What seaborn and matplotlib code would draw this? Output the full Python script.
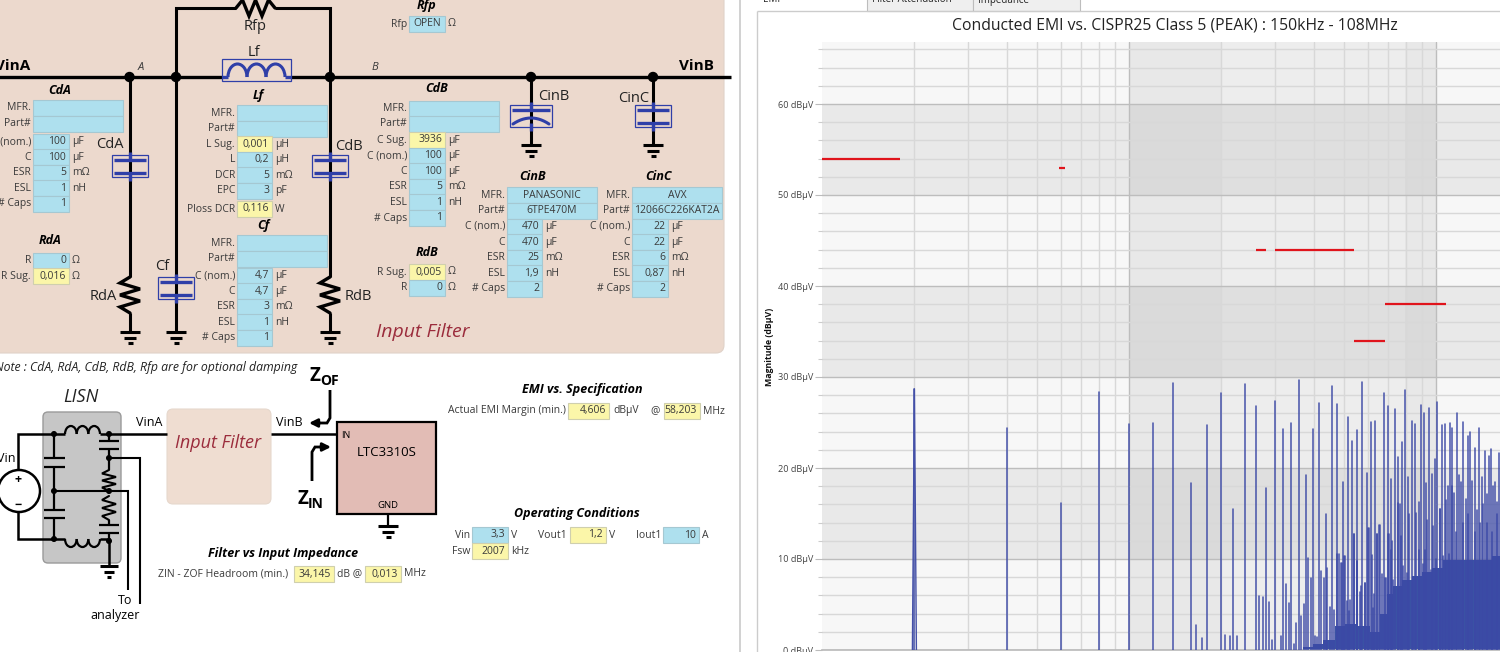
#!/usr/bin/env python
import matplotlib

matplotlib.use("Agg")
import matplotlib.pyplot as plt
import numpy as np
import pandas as pd
import seaborn as sns
from matplotlib.patches import Arc, Circle, FancyBboxPatch, Rectangle

# ---- spectrum data, MHz / dBuV ----
LOW_FREQS = [2.0, 4.0, 5.99, 8.0, 10.0]
LOW_AMPS = [28.7, 24.4, 16.2, 28.4, 24.8]
FOOT_FREQS = [1.97, 2.0, 2.03]
FOOT_AMPS = [0.0, 28.7, 0.0]

SPIKE_FREQS = [
    11.94, 13.94, 15.88, 16.53, 17.29, 17.90, 19.89, 20.49, 21.27, 21.87,
    22.48, 23.87, 25.86, 26.44, 27.25, 27.87, 28.50, 29.22, 29.81, 31.19,
    31.82, 32.38, 33.11, 33.78, 34.47, 34.99, 35.78, 36.33, 37.15, 37.71,
    38.38, 39.16, 39.74, 40.35, 40.96, 41.58, 42.31, 43.06, 43.71, 44.15,
    45.15, 45.72, 46.64, 47.58, 48.18, 49.28, 49.65, 50.28, 51.16, 51.55,
    52.19, 53.38, 54.05, 55.15, 55.42, 56.54, 57.54, 58.56, 59.44, 60.18,
    61.25, 62.18, 63.43, 64.07, 65.53, 67.53, 68.72, 69.58, 70.28, 71.34,
    72.05, 73.33, 75.38, 76.13, 77.29, 79.24, 81.25, 83.30, 85.41, 87.80,
    89.34, 91.15, 92.99, 95.11, 97.28, 98.99, 100.99, 103.28, 104.85, 106.97,
    109.4, 110.8, 113.0, 114.7, 117.05, 119.1, 120.6, 122.7, 124.9, 126.8,
    128.7, 131.3, 133.9, 136.0, 138.4, 141.2, 144.4, 146.9, 148.7, 150.6,
    153.7, 155.6, 157.6, 160.4,
]
SPIKE_AMPS = [
    25.0, 29.3, 18.4, 2.7, 1.3, 24.7, 28.2, 1.6, 1.5, 15.5,
    1.5, 29.2, 26.8, 5.9, 5.8, 17.8, 5.3, 1.1, 27.4, 1.5,
    24.3, 7.3, 5.2, 24.9, 0.7, 3.0, 29.7, 3.7, 5.1, 19.2,
    10.1, 7.9, 24.3, 1.5, 1.4, 27.1, 8.7, 7.9, 14.9, 9.0,
    4.7, 29.0, 4.4, 27.0, 10.6, 9.6, 18.5, 10.3, 5.4, 25.6,
    4.3, 23.0, 12.8, 9.8, 24.2, 6.4, 29.4, 7.4, 19.4, 13.4,
    25.1, 4.6, 25.2, 12.7, 13.7, 28.2, 7.9, 26.8, 12.8, 18.8,
    12.0, 26.5, 21.2, 16.0, 22.9, 28.6, 19.0, 25.2, 24.8, 16.3,
    26.9, 26.0, 18.3, 26.6, 19.3, 21.0, 27.2, 15.5, 24.7, 24.8,
    18.0, 24.9, 24.4, 17.2, 26.0, 19.2, 18.5, 25.1, 16.6, 23.5,
    24.0, 18.6, 22.2, 15.4, 24.4, 19.0, 21.9, 17.1, 21.3, 22.1,
    18.0, 18.5, 16.3, 21.6,
]

# shorter bars between the tall harmonics, they fill up the dense part
MID_FREQS = [
    47.46, 48.91, 50.53, 52.46, 54.05, 55.15, 57.1, 58.7, 60.34, 61.7,
    62.8, 64.07, 65.37, 66.5, 68.4, 69.9, 71.2, 72.6, 75.38, 76.7,
    78.3, 80.2, 81.9, 83.9, 86.1, 88.2, 90.5, 92.1, 93.7, 96.1,
    98.0, 100.0, 103.0, 105.6, 107.8, 110.0, 112.4, 116.2, 122.1, 127.4,
    133.9, 139.1, 142.6, 146.2, 151.8, 157.6,
]
MID_AMPS = [
    10.6, 9.6, 10.3, 5.5, 12.8, 9.8, 7.0, 7.4, 13.4, 10.4,
    6.2, 12.7, 13.7, 8.4, 7.9, 12.8, 11.0, 7.7, 16.1, 12.5,
    9.2, 8.5, 15.0, 7.9, 15.1, 11.0, 9.5, 11.0, 14.3, 8.8,
    13.6, 10.0, 15.5, 10.3, 16.5, 10.5, 18.0, 13.0, 14.0, 15.0,
    13.0, 14.0, 16.0, 14.0, 13.0, 15.0,
]

# solid floor under the dense harmonics at the high end
FLOOR_FREQS = [
    35.15, 38.85, 40.85, 45.15, 48.7, 52.5, 57.97, 64.07, 67.36, 70.8,
    74.4, 80.2, 86.5, 93.2, 100.4, 110.9, 125.8, 142.2, 162.0,
]
FLOOR_AMPS = [
    0.0, 0.3, 0.7, 1.1, 2.6, 2.9, 2.6, 2.0, 4.0, 6.2,
    7.0, 7.7, 8.1, 8.6, 9.0, 9.9, 9.9, 9.9, 10.3,
]

# CISPR25 class 5 peak limit segments
LIMIT_START = [1.0, 5.9, 26.0, 30.0, 54.0, 68.0]
LIMIT_END = [1.8, 6.2, 28.0, 54.0, 68.0, 108.0]
LIMIT_LEVEL = [54, 53, 44, 44, 34, 38]

Y_TICKS = [0, 10, 20, 30, 40, 50, 60]
Y_TICK_LABELS = [f"{v} dBµV" for v in Y_TICKS]

# ---- component tables: label, value, unit, suggested (yellow) ----
CDA_ROWS = [("C (nom.)", "100", "µF", 0), ("C", "100", "µF", 0), ("ESR", "5", "mΩ", 0),
            ("ESL", "1", "nH", 0), ("# Caps", "1", "", 0)]
RDA_ROWS = [("R", "0", "Ω", 0), ("R Sug.", "0,016", "Ω", 1)]
LF_ROWS = [("L Sug.", "0,001", "µH", 1), ("L", "0,2", "µH", 0), ("DCR", "5", "mΩ", 0),
           ("EPC", "3", "pF", 0)]
CF_ROWS = [("C (nom.)", "4,7", "µF", 0), ("C", "4,7", "µF", 0), ("ESR", "3", "mΩ", 0),
           ("ESL", "1", "nH", 0), ("# Caps", "1", "", 0)]
CDB_ROWS = [("C Sug.", "3936", "µF", 1), ("C (nom.)", "100", "µF", 0), ("C", "100", "µF", 0),
            ("ESR", "5", "mΩ", 0), ("ESL", "1", "nH", 0), ("# Caps", "1", "", 0)]
RDB_ROWS = [("R Sug.", "0,005", "Ω", 1), ("R", "0", "Ω", 0)]
CINB_ROWS = [("C (nom.)", "470", "µF", 0), ("C", "470", "µF", 0), ("ESR", "25", "mΩ", 0),
             ("ESL", "1,9", "nH", 0), ("# Caps", "2", "", 0)]
CINC_ROWS = [("C (nom.)", "22", "µF", 0), ("C", "22", "µF", 0), ("ESR", "6", "mΩ", 0),
             ("ESL", "0,87", "nH", 0), ("# Caps", "2", "", 0)]

BLUE = "#aee0ee"
BLUE_EDGE = "#a5c8d2"
YELLOW = "#fbf6a9"
YELLOW_EDGE = "#cfcfae"
BEIGE = "#ecd9cd"
INK = "#3a3a3a"
CAP_BLUE = "#2f3fa8"
RED_TEXT = "#9b2c3c"

sns.set_theme(style="whitegrid")
plt.rcParams["font.family"] = ["Open Sans", "DejaVu Sans"]

fig = plt.figure(figsize=(15, 6.52), dpi=100)
bg = fig.add_axes([0, 0, 1, 1])
bg.set_xlim(0, 1500)
bg.set_ylim(652, 0)
bg.axis("off")


def wire(xs, ys, lw=2.2, color="black", zorder=3):
    bg.plot(xs, ys, color=color, lw=lw, solid_capstyle="butt", solid_joinstyle="miter", zorder=zorder)


def dot(x, y, size=4.5):
    bg.add_patch(Circle((x, y), size, color="black", zorder=4))


def label(x, y, s, size=7.5, ha="left", color=INK, **kw):
    bg.text(x, y, s, fontsize=size, ha=ha, va="center", color=color, zorder=6, **kw)


def title(x, y, s, size=9):
    bg.text(x, y, s, fontsize=size, ha="center", va="center", color="black",
            fontweight="bold", fontstyle="italic", zorder=6)


def field(x0, x1, y, value="", yellow=False, ha="right"):
    face, edge = (YELLOW, YELLOW_EDGE) if yellow else (BLUE, BLUE_EDGE)
    bg.add_patch(Rectangle((x0, y - 8), x1 - x0, 16, facecolor=face, edgecolor=edge, lw=0.8, zorder=2))
    if ha == "right":
        label(x1 - 3, y, value, ha="right")
    else:
        label((x0 + x1) / 2, y, value, ha="center")


def part_rows(x0, x1, y, mfr="", part=""):
    label(x0 - 2, y, "MFR.", ha="right")
    field(x0, x1, y, mfr, ha="center")
    label(x0 - 2, y + 15.5, "Part#", ha="right")
    field(x0, x1, y + 15.5, part, ha="center")


def value_rows(rows, x0, x1, y, step=15.6):
    for i, (name, value, unit, sug) in enumerate(rows):
        yy = y + i * step
        label(x0 - 2, yy, name, ha="right")
        field(x0, x1, yy, value, yellow=bool(sug))
        if unit:
            label(x1 + 3, yy, unit)


def ground(x, y, w=10):
    wire([x - w, x + w], [y, y], lw=2.2)
    wire([x - w * 0.6, x + w * 0.6], [y + 6, y + 6], lw=2.2)
    wire([x - w * 0.25, x + w * 0.25], [y + 11, y + 11], lw=2.2)


def cap_symbol(x, y0, y1, curved=False, half=18):
    bg.add_patch(Rectangle((x - half, y0), 2 * half, y1 - y0, fill=False, edgecolor=CAP_BLUE, lw=0.9, zorder=5))
    wire([x - half + 2, x + half - 2], [y0 + 5, y0 + 5], lw=2.4, color=CAP_BLUE, zorder=5)
    if curved:
        xs = np.linspace(x - half + 3, x + half - 3, 15)
        bg.plot(xs, y1 - 3 - 6 * (1 - ((xs - x) / (half - 3)) ** 2), color=CAP_BLUE, lw=2.2, zorder=5)
    else:
        wire([x - half + 2, x + half - 2], [y1 - 4, y1 - 4], lw=2.4, color=CAP_BLUE, zorder=5)
    wire([x, x], [y0 - 3, y0 + 5], lw=2.4, color=CAP_BLUE, zorder=5)
    wire([x, x], [y1 - 4, y1 + 4], lw=2.4, color=CAP_BLUE, zorder=5)


def zigzag_v(x, y0, y1, amp=10, n=6, lw=2.4):
    ys = np.linspace(y0, y1, n + 1)
    xs = [x] + [x + amp * (1 if i % 2 else -1) for i in range(n - 1)] + [x]
    bg.plot(xs, ys, color="black", lw=lw, solid_joinstyle="miter", zorder=3)


def zigzag_h(x0, x1, y, amp=8, n=6, lw=2.4):
    xs = np.linspace(x0, x1, n + 1)
    ys = [y] + [y + amp * (1 if i % 2 else -1) for i in range(n - 1)] + [y]
    bg.plot(xs, ys, color="black", lw=lw, solid_joinstyle="miter", zorder=3)


def coil(x0, x1, y, loops=3, lw=2.0, color="black", height=13, down=False):
    w = (x1 - x0) / loops
    t0, t1 = (0, 180) if down else (180, 360)
    for i in range(loops):
        bg.add_patch(Arc((x0 + w * (i + 0.5), y), w, 2 * height, theta1=t0, theta2=t1,
                         color=color, lw=lw, zorder=5))


# ---- input filter panel ----
bg.add_patch(FancyBboxPatch((-20, -20), 744, 373, boxstyle="round,pad=0,rounding_size=8",
                            facecolor=BEIGE, edgecolor="#e0d2c8", lw=0.8, zorder=1))
wire([-5, 222], [77, 77], lw=2.4)
wire([291, 731], [77, 77], lw=2.4)
for x in [129.5, 176, 330, 531, 653]:
    dot(x, 77)
wire([176, 176, 236], [77, 8, 8])
wire([275, 330, 330], [8, 8, 77])
zigzag_h(236, 275, 8)
wire([130, 130], [77, 277])
wire([176, 176], [77, 332])
wire([330, 330], [77, 277])
wire([130, 130], [313, 332])
wire([330, 330], [313, 332])
wire([531, 531], [77, 145])
wire([653, 653], [77, 145])
zigzag_v(130, 277, 313)
zigzag_v(330, 277, 313)
for x in [130, 176, 330]:
    ground(x, 332)
for x in [531, 653]:
    ground(x, 145)
cap_symbol(130, 155, 177)
cap_symbol(176, 277, 299)
cap_symbol(330, 155, 177)
cap_symbol(531, 105, 127, curved=True, half=21)
cap_symbol(653, 105, 127)
bg.add_patch(Rectangle((222, 59), 69, 22, fill=False, edgecolor=CAP_BLUE, lw=0.9, zorder=5))
wire([222, 228], [77, 77], lw=2.4, color=CAP_BLUE, zorder=5)
wire([285, 291], [77, 77], lw=2.4, color=CAP_BLUE, zorder=5)
coil(228, 285, 77, lw=2.2, color=CAP_BLUE)

bg.text(30, 66, "VinA", fontsize=11, fontweight="bold", ha="right", va="center", color="black", zorder=6)
bg.text(696, 66, "VinB", fontsize=11, fontweight="bold", ha="center", va="center", color="black", zorder=6)
label(141, 68, "A", size=8, ha="center", fontstyle="italic")
label(375, 68, "B", size=8, ha="center", fontstyle="italic")
for x, y, s in [(255, 27, "Rfp"), (254, 52, "Lf"), (110, 144, "CdA"), (349, 146, "CdB"),
                (103, 297, "RdA"), (358, 296, "RdB"), (162, 266, "Cf"), (554, 97, "CinB"),
                (634, 98, "CinC")]:
    label(x, y, s, size=10.5, ha="center", color="#222222")

title(60, 90, "CdA")
part_rows(33, 123, 108)
value_rows(CDA_ROWS, 33, 69, 141.5)
title(50, 241, "RdA")
value_rows(RDA_ROWS, 33, 69, 260.5)

title(258, 96, "Lf")
part_rows(237, 327, 113)
value_rows(LF_ROWS, 237, 272, 144)
value_rows([("Ploss DCR", "0,116", "W", 1)], 237, 272, 209)
title(263, 225, "Cf")
part_rows(237, 327, 243)
value_rows(CF_ROWS, 237, 272, 275.5)

title(427, 6, "Rfp")
label(407, 24, "Rfp", ha="right")
field(409, 445, 24, "OPEN", ha="center")
label(448, 24, "Ω")
title(437, 89, "CdB")
part_rows(409, 499, 108.5)
value_rows(CDB_ROWS, 409, 445, 140)
title(427, 252, "RdB")
value_rows(RDB_ROWS, 409, 445, 272)

title(533, 176, "CinB")
part_rows(507, 597, 195, "PANASONIC", "6TPE470M")
value_rows(CINB_ROWS, 507, 542, 226.5)
title(659, 176, "CinC")
part_rows(632, 722, 195, "AVX", "12066C226KAT2A")
value_rows(CINC_ROWS, 632, 668, 226.5)

bg.text(423, 332, "Input Filter", fontsize=14, fontstyle="italic", ha="center", va="center",
        color=RED_TEXT, zorder=6)
bg.text(297, 367, "Note : CdA, RdA, CdB, RdB, Rfp are for optional damping", fontsize=8.8,
        fontstyle="italic", ha="right", va="center", color="#222222", zorder=6)

# ---- LISN and block diagram ----
bg.add_patch(FancyBboxPatch((43, 412), 78, 151, boxstyle="round,pad=0,rounding_size=5",
                            facecolor="#c6c6c6", edgecolor="#9a9a9a", lw=1, zorder=1))
bg.text(81, 397, "LISN", fontsize=13, fontstyle="italic", ha="center", va="center", color="#222222")
bg.add_patch(Circle((19, 491), 21, fill=False, edgecolor="black", lw=1.8, zorder=3))
label(18, 479, "+", size=9, ha="center", color="black", fontweight="bold")
label(18, 505, "−", size=9, ha="center", color="black", fontweight="bold")
label(6, 458, "Vin", size=9, ha="center", color="black")
wire([18, 18, 65], [470, 434, 434], lw=1.8)
wire([100, 167], [434, 434], lw=1.8)
wire([18, 18, 65], [512, 539, 539], lw=1.8)
wire([100, 109, 109], [539, 539, 566], lw=1.8)
coil(65, 100, 434, loops=3, lw=1.6, height=8)
coil(65, 100, 539, loops=3, lw=1.6, height=8, down=True)
wire([54, 54], [434, 458], lw=1.6)
wire([54, 54], [467, 510], lw=1.6)
wire([54, 54], [518, 539], lw=1.6)
for y in [458, 467, 510, 518]:
    wire([44, 65], [y, y], lw=1.6)
wire([109, 109], [434, 441], lw=1.6)
wire([109, 109], [449, 470], lw=1.6)
wire([109, 109], [520, 525], lw=1.6)
wire([109, 109], [533, 541], lw=1.6)
for y in [441, 449, 525, 533]:
    wire([99, 119], [y, y], lw=1.6)
zigzag_v(109, 470, 491, amp=7, lw=1.5)
zigzag_v(109, 496, 520, amp=7, lw=1.5)
wire([54, 128, 128], [491, 491, 590], lw=1.5)
wire([109, 140, 140], [458, 458, 604], lw=1.5)
for x, y in [(54, 434), (54, 491), (54, 539), (109, 434), (109, 458), (109, 491), (109, 541)]:
    dot(x, y, size=2.3)
ground(109, 566, w=9)
label(125, 600, "To", size=9, ha="center", color="black")
label(115, 615, "analyzer", size=9, ha="center", color="black")

bg.add_patch(FancyBboxPatch((167, 409), 104, 95, boxstyle="round,pad=0,rounding_size=6",
                            facecolor="#efddd1", edgecolor="#e6d8cd", lw=0.8, zorder=1))
bg.text(218, 443, "Input Filter", fontsize=13, fontstyle="italic", ha="center", va="center", color=RED_TEXT)
wire([271, 337], [434, 434], lw=1.8)
label(149, 423, "VinA", size=9, ha="center", color="black")
label(289, 423, "VinB", size=9, ha="center", color="black")
bg.add_patch(Rectangle((337, 422), 99, 92, facecolor="#e2bcb5", edgecolor="black", lw=1.6, zorder=2))
label(346, 435, "IN", size=6.5, ha="center", color="black")
label(387, 452, "LTC3310S", size=9.5, ha="center", color="black")
label(388, 506, "GND", size=6.8, ha="center", color="black")
wire([388, 388], [514, 526], lw=1.6)
ground(388, 526, w=10)
wire([330, 330, 327, 318], [390, 418, 423, 423], lw=2)
bg.annotate("", xy=(309, 423), xytext=(320, 423), zorder=4,
            arrowprops=dict(arrowstyle="-|>", color="black", lw=2, shrinkA=0, shrinkB=0))
wire([312, 312, 315, 322], [481, 452, 447, 447], lw=2)
bg.annotate("", xy=(331, 447), xytext=(320, 447), zorder=4,
            arrowprops=dict(arrowstyle="-|>", color="black", lw=2, shrinkA=0, shrinkB=0))
label(309, 376, "Z", size=13.5, color="black", fontweight="bold")
label(320, 381, "OF", size=10, color="black", fontweight="bold")
label(298, 499, "Z", size=13.5, color="black", fontweight="bold")
label(308, 504, "IN", size=10, color="black", fontweight="bold")

title(283, 553, "Filter vs Input Impedance")
label(288, 574, "ZIN - ZOF Headroom (min.)", ha="right")
field(294, 334, 574, "34,145", yellow=True)
label(337, 574, "dB @")
field(365, 401, 574, "0,013", yellow=True)
label(404, 574, "MHz")

title(582, 390, "EMI vs. Specification")
label(566, 411, "Actual EMI Margin (min.)", ha="right")
field(568, 609, 411, "4,606", yellow=True)
label(613, 411, "dBµV")
label(655, 411, "@", ha="center")
field(664, 700, 411, "58,203", yellow=True)
label(703, 411, "MHz")

title(577, 513, "Operating Conditions")
label(470, 535, "Vin", ha="right")
field(472, 508, 535, "3,3")
label(511, 535, "V")
label(567, 535, "Vout1", ha="right")
field(570, 606, 535, "1,2", yellow=True)
label(609, 535, "V")
label(661, 535, "Iout1", ha="right")
field(663, 699, 535, "10")
label(702, 535, "A")
label(470, 551, "Fsw", ha="right")
field(472, 508, 551, "2007", yellow=True)
label(511, 551, "kHz")

# ---- right side window chrome ----
wire([740, 740], [0, 652], lw=1.2, color="#c9c9c9")
wire([757, 757], [11, 652], lw=1.0, color="#cccccc")
wire([757, 1500], [11, 11], lw=1.0, color="#cccccc")
for x0, x1, name in [(867, 973, "Filter Attenuation"), (973, 1080, "Impedance")]:
    bg.add_patch(Rectangle((x0, -5), x1 - x0, 16, facecolor="#efefef", edgecolor="#bdbdbd", lw=0.8, zorder=2))
    label(x0 + 5, 0, name, size=7, color="#222222")
label(763, 0, "EMI", size=7, color="#222222")

bg.text(1175, 26, "Conducted EMI vs. CISPR25 Class 5 (PEAK) : 150kHz - 108MHz", fontsize=11.3,
        ha="center", va="center", color="#222222")
bg.text(769, 347, "Magnitude (dBµV)", fontsize=6.3, fontweight="bold", rotation=90,
        ha="center", va="center", color="#111111")

# ---- EMI spectrum ----
ax = fig.add_axes([822 / 1500, 2 / 652, 678 / 1500, 608 / 652])
ax.set_xscale("log")
ax.set_facecolor("#f7f7f7")
for lo in [10, 30, 50]:
    ax.axhspan(lo, lo + 10, color="#e9e9e9", lw=0, zorder=0)
ax.axvspan(10, 100, color="black", alpha=0.04, lw=0, zorder=0.5)
ax.axvspan(10, 20, color="black", alpha=0.02, lw=0, zorder=0.5)
ax.axvspan(79, 100, color="black", alpha=0.02, lw=0, zorder=0.5)

ax.fill_between(FLOOR_FREQS, 0, FLOOR_AMPS, step="mid", color="#3a52a4", lw=0, zorder=2.5)

all_freqs = LOW_FREQS + SPIKE_FREQS + MID_FREQS
all_amps = LOW_AMPS + SPIKE_AMPS + MID_AMPS
spikes = pd.DataFrame(
    {
        "freq": np.repeat(all_freqs, 2),
        "amp": np.column_stack([np.zeros(len(all_amps)), all_amps]).ravel(),
        "spike": np.repeat(np.arange(len(all_freqs)), 2),
    }
)
sns.lineplot(data=spikes, x="freq", y="amp", units="spike", estimator=None, sort=False,
             color="#3c49a6", lw=1.15, alpha=0.9, ax=ax, zorder=3)
sns.lineplot(x=FOOT_FREQS, y=FOOT_AMPS, estimator=None, sort=False, color="#4450a8", lw=1.0, ax=ax, zorder=3)

limits = pd.DataFrame(
    {
        "freq": LIMIT_START + LIMIT_END,
        "level": LIMIT_LEVEL + LIMIT_LEVEL,
        "band": list(range(len(LIMIT_START))) * 2,
    }
)
sns.lineplot(data=limits, x="freq", y="level", units="band", estimator=None, color="#e0141c",
             lw=1.6, ax=ax, zorder=4, solid_capstyle="butt")

# limits go last, the lineplots above rescale the axes
ax.set_xlim(1, 10 ** (678 / 307))
ax.set_ylim(0, 608 / 9.1)
ax.set_xlabel("")
ax.set_ylabel("")
ax.set_yticks(Y_TICKS, Y_TICK_LABELS)
ax.set_yticks(np.arange(0, 67, 2), minor=True)
ax.set_xticks([10, 100], ["", ""])
ax.set_xticks([m * d for d in [1, 10] for m in range(2, 10)], minor=True)
ax.xaxis.set_minor_formatter(matplotlib.ticker.NullFormatter())
ax.grid(True, which="major", color="#bdbdbd", lw=1.0, zorder=1)
ax.grid(True, which="minor", color="#d8d8d8", lw=1.0, zorder=1)
ax.set_axisbelow(True)
ax.tick_params(axis="y", which="major", labelsize=6.6, labelcolor="#444444", length=5, color="#bbbbbb", width=0.8, pad=1.5, left=True)
ax.tick_params(axis="y", which="minor", length=3, color="#cccccc", width=0.8, left=True)
ax.tick_params(axis="x", which="both", length=0)
sns.despine(ax=ax, top=True, right=True, left=True, bottom=False)
ax.spines["bottom"].set_color("#bbbbbb")

fig.savefig("out.png", dpi=100)
